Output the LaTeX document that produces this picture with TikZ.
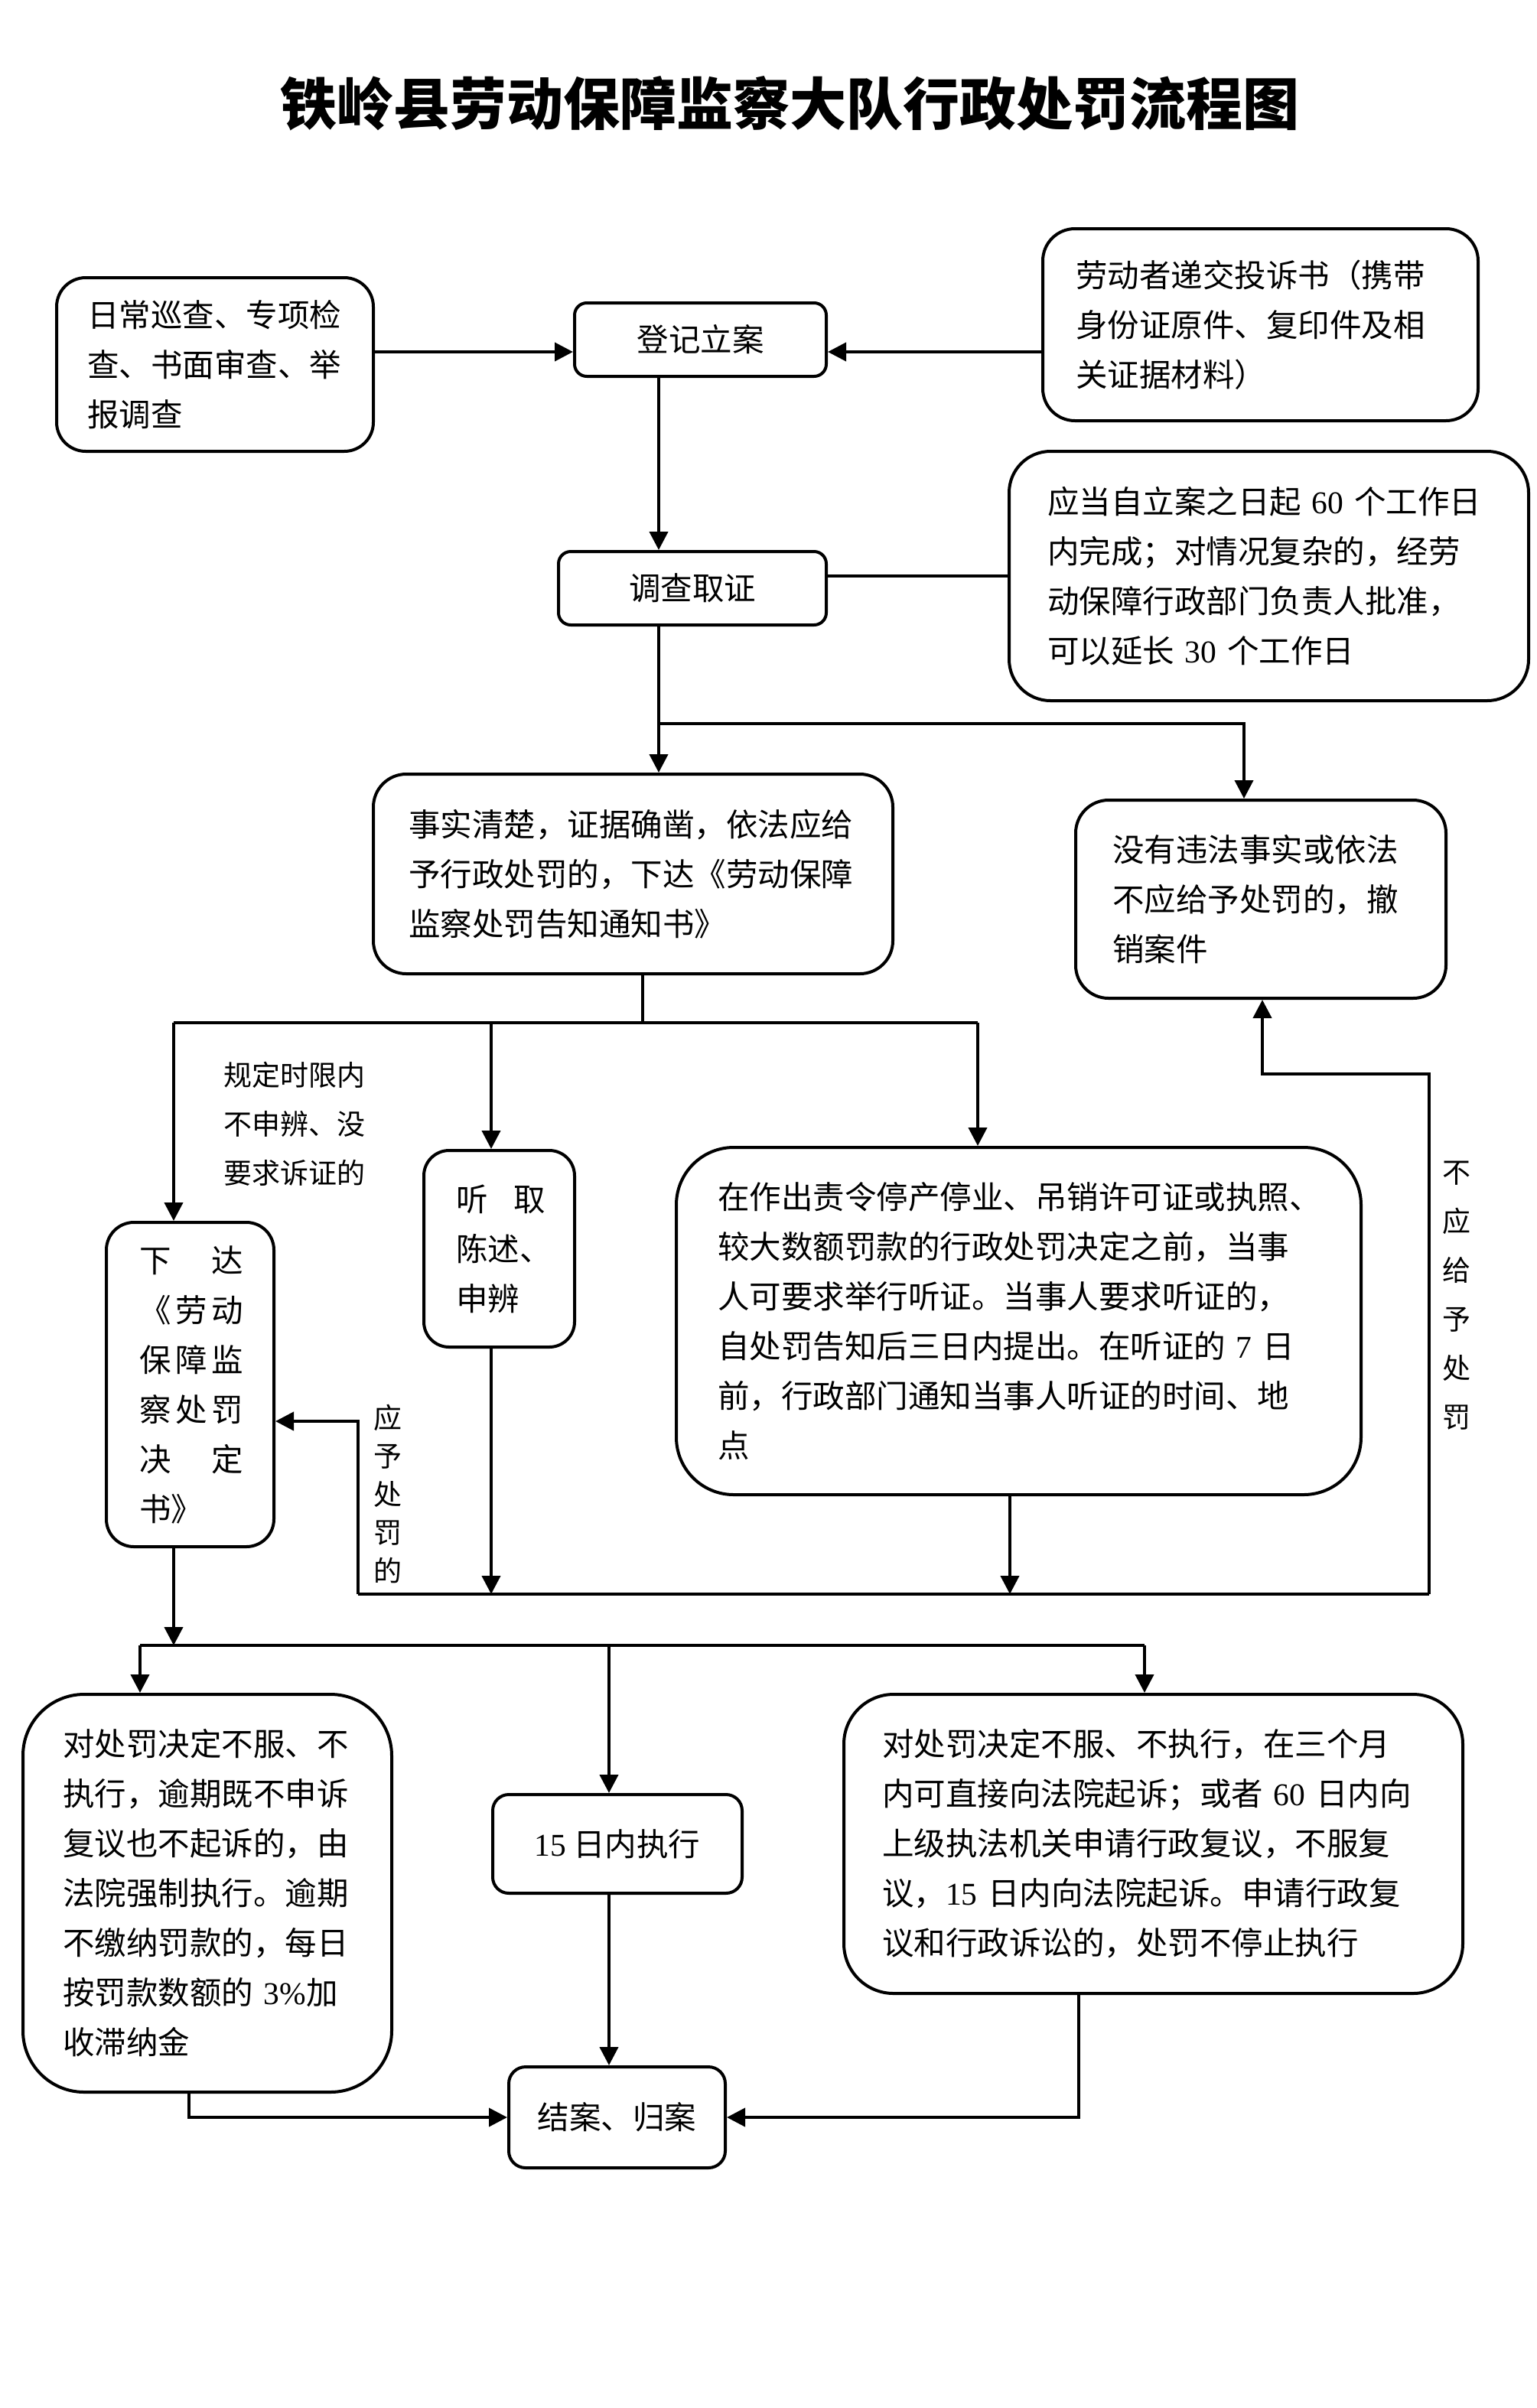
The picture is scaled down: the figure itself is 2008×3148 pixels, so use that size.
\documentclass[tikz,border=0pt]{standalone}
\usepackage{fontspec}
\setmainfont{Noto Sans CJK SC}
\newfontfamily\lat{Liberation Serif}
\usetikzlibrary{arrows.meta}
\newcommand\sprthree[3]{\makebox[136pt][s]{#1\hfill#2\hfill#3}}
\newcommand\sprtwo[2]{\makebox[136pt][s]{#1\hfill#2}}
\begin{document}
\begin{tikzpicture}[x=1pt,y=-1pt,
  box/.style={draw, line width=4pt, align=left, inner ysep=0pt, font=\fontsize{41.5}{65}\selectfont},
  cbox/.style={box, align=center},
  lnk/.style={line width=4pt},
  arr/.style={line width=4pt, -{Triangle[length=24pt,width=24pt]}},
  lbl/.style={font=\fontsize{37}{64}\selectfont, align=left, inner sep=0pt}]

\useasboundingbox[fill=white] (0,0) rectangle (2008,3148);

% title
\node[font=\fontsize{74}{80}\selectfont\bfseries] (title) at (1032,135) {铁岭县劳动保障监察大队行政处罚流程图};

% boxes
\node[box, minimum width=414pt, minimum height=227pt, text width=334pt, inner xsep=40pt, rounded corners=38pt] (b1) at (281,476.5)
  {日常巡查、专项检\\查、书面审查、举\\报调查};
\node[cbox, minimum width=329pt, minimum height=96pt, rounded corners=16pt] (b2) at (915.5,444) {登记立案};
\node[box, minimum width=569pt, minimum height=251pt, text width=483pt, inner xsep=43pt, rounded corners=42pt] (b3) at (1647.5,424.5)
  {劳动者递交投诉书（携带\\身份证原件、复印件及相\\关证据材料）};
\node[cbox, minimum width=350pt, minimum height=96pt, rounded corners=16pt] (b4) at (905,769) {调查取证};
\node[box, minimum width=679pt, minimum height=326pt, text width=579pt, inner xsep=50pt, rounded corners=54pt] (b5) at (1658.5,753)
  {应当自立案之日起~{\lat 60}~个工作日\\内完成；对情况复杂的，经劳\\动保障行政部门负责人批准，\\可以延长~{\lat 30}~个工作日};
\node[box, minimum width=679pt, minimum height=261pt, text width=587pt, inner xsep=46pt, rounded corners=43pt] (b6) at (827.5,1142.5)
  {事实清楚，证据确凿，依法应给\\予行政处罚的，下达《劳动保障\\监察处罚告知通知书》};
\node[box, minimum width=484pt, minimum height=259pt, text width=388pt, inner xsep=48pt, rounded corners=43pt] (b7) at (1648,1175.5)
  {没有违法事实或依法\\不应给予处罚的，撤\\销案件};
\node[box, minimum width=197pt, minimum height=257pt, text width=113pt, inner xsep=42pt, rounded corners=33pt] (b8) at (652.5,1632.5)
  {\makebox[117pt][s]{听\hfill{}取}\\陈述、\\申辨};
\node[box, minimum width=895pt, minimum height=454pt, text width=787pt, inner xsep=54pt, rounded corners=75pt] (b9) at (1331.5,1727)
  {在作出责令停产停业、吊销许可证或执照、\\较大数额罚款的行政处罚决定之前，当事\\人可要求举行听证。当事人要求听证的，\\自处罚告知后三日内提出。在听证的~{\lat 7}~日\\前，行政部门通知当事人听证的时间、地\\点};
\node[box, minimum width=219pt, minimum height=424pt, text width=133pt, inner xsep=43pt, rounded corners=36pt] (b10) at (248.5,1810)
  {\sprtwo{下}{达}\\\sprthree{《}{劳}{动}\\\sprthree{保}{障}{监}\\\sprthree{察}{处}{罚}\\\sprtwo{决}{定}\\书》};
\node[box, minimum width=482pt, minimum height=520pt, text width=378pt, inner xsep=52pt, rounded corners=80pt] (b11) at (271,2475)
  {对处罚决定不服、不\\执行，逾期既不申诉\\复议也不起诉的，由\\法院强制执行。逾期\\不缴纳罚款的，每日\\按罚款数额的~{\lat 3\%}加\\收滞纳金};
\node[cbox, minimum width=326pt, minimum height=129pt, rounded corners=21pt] (b12) at (807,2410.5) {{\lat 15}~日内执行};
\node[box, minimum width=809pt, minimum height=391pt, text width=709pt, inner xsep=50pt, rounded corners=65pt] (b13) at (1507.5,2410.5)
  {对处罚决定不服、不执行，在三个月\\内可直接向法院起诉；或者~{\lat 60}~日内向\\上级执法机关申请行政复议，不服复\\议，{\lat 15}~日内向法院起诉。申请行政复\\议和行政诉讼的，处罚不停止执行};
\node[cbox, minimum width=283pt, minimum height=132pt, rounded corners=22pt] (b14) at (806.5,2768) {结案、归案};

% labels
\node[lbl, anchor=west] (L1) at (292,1469) {规定时限内\\不申辨、没\\要求诉证的};
\node[lbl, align=center] (L2) at (1904,1694) {不\\应\\给\\予\\处\\罚};
\node[lbl, align=center, font=\fontsize{37}{50}\selectfont] (L3) at (507,1953) {应\\予\\处\\罚\\的};

% helper coordinates
\coordinate (y460) at (0,460);
\coordinate (x861) at (861,0);
\coordinate (y753) at (0,753);
\coordinate (J1) at (861,946);
\coordinate (J1r) at (1626,946);
\coordinate (J2) at (840,1337);
\coordinate (J2l) at (227,1337);
\coordinate (J2m) at (642,1337);
\coordinate (J2r) at (1278,1337);
\coordinate (J3l) at (468,2084);
\coordinate (J3r) at (1868,2084);
\coordinate (x1320) at (1320,0);
\coordinate (J4) at (1868,1404);
\coordinate (J4l) at (1650,1404);
\coordinate (J5) at (468,1858);
\coordinate (J6) at (227,2151);
\coordinate (J6l) at (183,2151);
\coordinate (J6m) at (796,2151);
\coordinate (J6r) at (1496,2151);
\coordinate (J7l) at (247,2768);
\coordinate (J7r) at (1410,2768);

% connectors
\draw[arr] (b1.east |- y460) -- (b2.west |- y460);
\draw[arr] (b3.west |- y460) -- (b2.east |- y460);
\draw[arr] (b2.south -| x861) -- (b4.north -| x861);
\draw[lnk] (b4.east |- y753) -- (b5.west |- y753);
\draw[arr] (b4.south -| x861) -- (b6.north -| x861);
\draw[arr] (J1) -- (J1r) -- (b7.north -| J1r);

\draw[lnk] (b6.south -| J2) -- (J2);
\draw[lnk] (J2l) -- (J2r);
\draw[arr] (J2l) -- (b10.north -| J2l);
\draw[arr] (J2m) -- (b8.north -| J2m);
\draw[arr] (J2r) -- (b9.north -| J2r);

\draw[arr] (b8.south -| J2m) -- (J2m |- J3l);
\draw[arr] (b9.south -| x1320) -- (x1320 |- J3l);
\draw[lnk] (J3l) -- (J3r);
\draw[arr] (J3r) -- (J4) -- (J4l) -- (b7.south -| J4l);
\draw[arr] (J3l) -- (J5) -- (b10.east |- J5);

\draw[arr] (b10.south -| J6) -- (J6);
\draw[lnk] (J6l) -- (J6r);
\draw[arr] (J6l) -- (b11.north -| J6l);
\draw[arr] (J6m) -- (b12.north -| J6m);
\draw[arr] (J6r) -- (b13.north -| J6r);
\draw[arr] (b12.south -| J6m) -- (b14.north -| J6m);
\draw[arr] (b11.south -| J7l) -- (J7l) -- (b14.west |- J7l);
\draw[arr] (b13.south -| J7r) -- (J7r) -- (b14.east |- J7r);
\end{tikzpicture}
\end{document}
